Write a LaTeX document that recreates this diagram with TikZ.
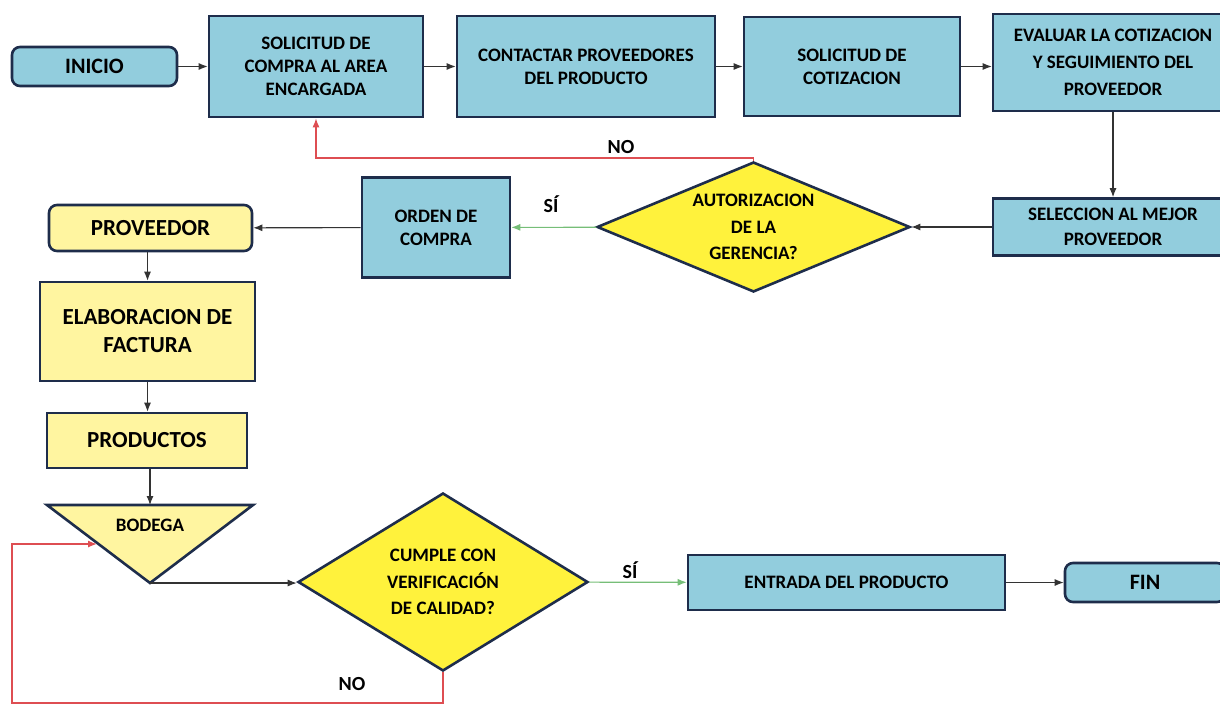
\documentclass[tikz,border=0pt]{standalone}
\usepackage{fontspec}
\setmainfont{Carlito}
\usetikzlibrary{shapes.geometric,arrows.meta,positioning}

\definecolor{boxblue}{RGB}{146,205,221}
\definecolor{boxline}{RGB}{30,45,75}
\definecolor{paleyellow}{RGB}{255,245,160}
\definecolor{decyellow}{RGB}{255,242,60}
\definecolor{nored}{RGB}{222,78,82}
\definecolor{sigreen}{RGB}{118,190,120}

\begin{document}
\begin{tikzpicture}[
    x=1pt,y=-1pt,
    box/.style={rectangle,draw=boxline,line width=2.6pt,fill=boxblue,
                align=center,inner sep=0pt,
                font=\bfseries\fontsize{19}{23}\selectfont},
    terminal/.style={box,rounded corners=8pt,font=\bfseries\fontsize{22}{26}\selectfont},
    yellowbox/.style={box,fill=paleyellow,font=\bfseries\fontsize{23}{28}\selectfont},
    decision/.style={diamond,draw=boxline,line width=2.6pt,fill=decyellow,
                     align=center,inner sep=0pt,shape aspect=2.2,
                     font=\bfseries\fontsize{19}{26.5}\selectfont},
    flow/.style={draw=black!80,line width=1.1pt,-{Latex[length=9pt,width=7pt]}},
    noline/.style={flow,draw=nored,line width=1.3pt},
    siline/.style={flow,draw=sigreen},
    tag/.style={font=\bfseries\fontsize{20}{24}\selectfont}]

    \useasboundingbox (0,0) rectangle (1220,706);

    % top row
    \node (inicio) [terminal,minimum width=165,minimum height=39] at (94.5,66.5) {INICIO};
    \node (solicitud) [box,minimum width=214,minimum height=101] at (316,66.5)
      {SOLICITUD DE\\COMPRA AL AREA\\ENCARGADA};
    \node (contactar) [box,minimum width=258,minimum height=101] at (586,66.5)
      {CONTACTAR PROVEEDORES\\DEL PRODUCTO};
    \node (cotizacion) [box,minimum width=216,minimum height=99] at (852,66.5)
      {SOLICITUD DE\\COTIZACION};
    \node (evaluar) [box,minimum width=240,minimum height=97,
                     font=\bfseries\fontsize{19}{27}\selectfont] at (1113,62.5)
      {EVALUAR LA COTIZACION\\Y SEGUIMIENTO DEL\\PROVEEDOR};

    % second row
    \node (seleccion) [box,minimum width=240,minimum height=57,
                       font=\bfseries\fontsize{19}{25}\selectfont] at (1113,227)
      {SELECCION AL MEJOR\\PROVEEDOR};
    \node (autoriza) [decision,minimum width=313,minimum height=130] at (753.5,227)
      {AUTORIZACION\\DE LA\\GERENCIA?};
    \node (orden) [box,minimum width=148,minimum height=100] at (436,227.5)
      {ORDEN DE\\COMPRA};
    \node (proveedor) [yellowbox,rounded corners=8pt,minimum width=203,minimum height=46] at (150.5,228)
      {PROVEEDOR};

    % left column
    \node (factura) [yellowbox,minimum width=215,minimum height=99] at (147.5,331.5)
      {ELABORACION DE\\FACTURA};
    \node (productos) [yellowbox,minimum width=200,minimum height=55] at (147,440.5)
      {PRODUCTOS};

    % bodega triangle
    \coordinate (bodegaleft) at (47,505);
    \coordinate (bodegaright) at (253,505);
    \coordinate (bodegaapex) at (150,583);
    \coordinate (bodegatop) at (150,505);
    \draw[draw=boxline,line width=2.6pt,fill=paleyellow,line join=miter]
      (bodegaleft) -- (bodegaright) -- (bodegaapex) -- cycle;
    \node (bodega) [font=\bfseries\fontsize{19}{23}\selectfont] at (150,525) {BODEGA};
    \coordinate (bodegain) at (97,544);

    % bottom row
    \node (cumple) [decision,minimum width=290,minimum height=178] at (443,582)
      {CUMPLE CON\\VERIFICACIÓN\\DE CALIDAD?};
    \node (entrada) [box,minimum width=317,minimum height=55] at (846.5,582.5)
      {ENTRADA DEL PRODUCTO};
    \node (fin) [terminal,minimum width=160,minimum height=39] at (1145,582.5) {FIN};

    % connectors
    \draw[flow] (inicio) -- (solicitud);
    \draw[flow] (solicitud) -- (contactar);
    \draw[flow] (contactar) -- (cotizacion);
    \draw[flow] (cotizacion) -- (evaluar.west |- cotizacion.east);
    \draw[flow] (evaluar) -- (seleccion);
    \draw[flow] (seleccion) -- (autoriza);
    \draw[siline] (autoriza) -- (orden);
    \draw[flow] (orden) -- (proveedor);
    \draw[flow] (factura.north |- proveedor.south) -- (factura.north);
    \draw[flow] (factura.south) -- (factura.south |- productos.north);
    \draw[flow] (productos.south -| bodegatop) -- (bodegatop);
    \draw[flow] (bodegaapex) -- (bodegaapex -| cumple.west);
    \draw[siline] (cumple) -- (entrada);
    \draw[flow] (entrada) -- (fin);

    % NO loops
    \coordinate (nohigh) at (753.5,158);
    \draw[noline] (autoriza.north) -- (nohigh) -| (solicitud.south);
    \coordinate (nolow) at (12,703);
    \draw[noline] (cumple.south) |- (nolow) |- (bodegain);

    % labels
    \node (nouno) [tag] at (621,147) {NO};
    \node (siuno) [tag] at (551,204) {SÍ};
    \node (sidos) [tag] at (630,570) {SÍ};
    \node (nodos) [tag] at (352,684) {NO};
  \end{tikzpicture}
\end{document}
